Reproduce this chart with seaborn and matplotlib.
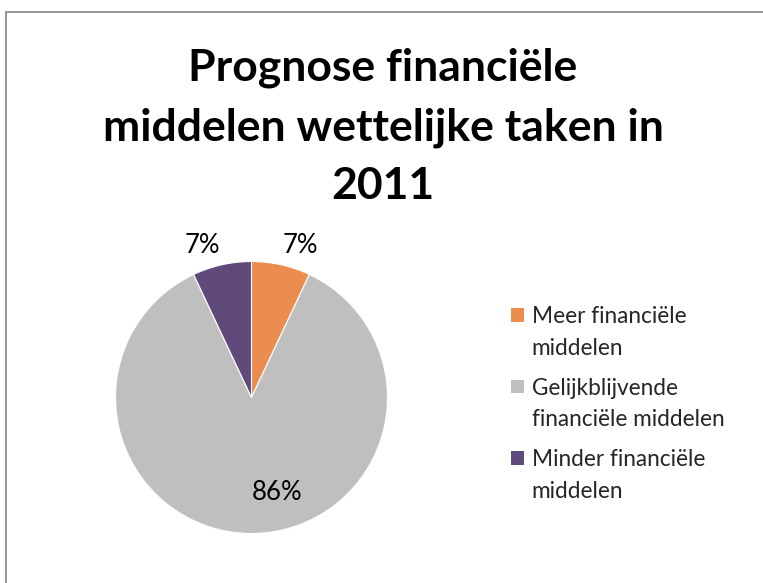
import numpy as np
import seaborn as sns
import matplotlib
matplotlib.use("Agg")
import matplotlib.pyplot as plt
from matplotlib.patches import Rectangle, Wedge
from matplotlib.legend_handler import HandlerPatch

# Данные диаграммы
categories = ["Meer financiële\nmiddelen",
              "Gelijkblijvende\nfinanciële middelen",
              "Minder financiële\nmiddelen"]
shares = [7, 86, 7]
slice_colors = ["#EB8D4E", "#BFBFBF", "#604A7B"]
title_lines = ["Prognose financiële", "middelen wettelijke taken in", "2011"]

sns.set_theme(style="white")
plt.rcParams["font.family"] = ["Lato", "DejaVu Sans"]

W, H = 763, 583
fig = plt.figure(figsize=(W / 100, H / 100), dpi=100)

# рамка
fig.patches.append(Rectangle((5.5 / W, -0.1), 1.2, 1.1 - 12.5 / H, transform=fig.transFigure,
                             fill=False, edgecolor="#8C8C8C", linewidth=1.3))

# заголовок
for txt, ypx in zip(title_lines, [68, 128, 186]):
    fig.text(383 / W, 1 - ypx / H, txt, ha="center", va="center",
             fontsize=32, fontweight="bold", color="black")

# круговая диаграмма
cx, cy, r = 251.5, 397.5, 136
ax = fig.add_axes([(cx - r) / W, (H - cy - r) / H, 2 * r / W, 2 * r / H])
wedges, _ = ax.pie(shares, colors=slice_colors, startangle=90, counterclock=False,
                   wedgeprops=dict(linewidth=0.8, edgecolor="white"))
ax.set_xlim(-1, 1)
ax.set_ylim(-1, 1)
ax.set_axis_off()

for w, v in zip(wedges, shares):
    mid = np.deg2rad((w.theta1 + w.theta2) / 2)
    inside = v > 50
    dist = 0.7 if inside else 1.05
    x, y = dist * np.cos(mid), dist * np.sin(mid)
    ax.text(x, y, f"{v}%", ha="left" if x > -0.01 else "right",
            va="center" if inside else "bottom",
            fontsize=18.5, color="black", clip_on=False)


# квадратик легенды на уровне первой строки
class TopHandler(HandlerPatch):
    def create_artists(self, legend, orig_handle, xdescent, ydescent, width, height, fontsize, trans):
        p = Rectangle((-xdescent, -ydescent + 13.0), width, height)
        self.update_prop(p, orig_handle, legend)
        p.set_linewidth(0)
        p.set_transform(trans)
        return [p]


leg = fig.legend(wedges, categories, loc="upper left", bbox_to_anchor=(491 / W, 1 - 286 / H),
                 frameon=False, fontsize=16.3, handlelength=0.55, handleheight=0.55,
                 handletextpad=0.35, labelspacing=0.83,
                 handler_map={Wedge: TopHandler()})
for t in leg.get_texts():
    t.set_linespacing(1.62)

fig.savefig("out.png", dpi=100)
